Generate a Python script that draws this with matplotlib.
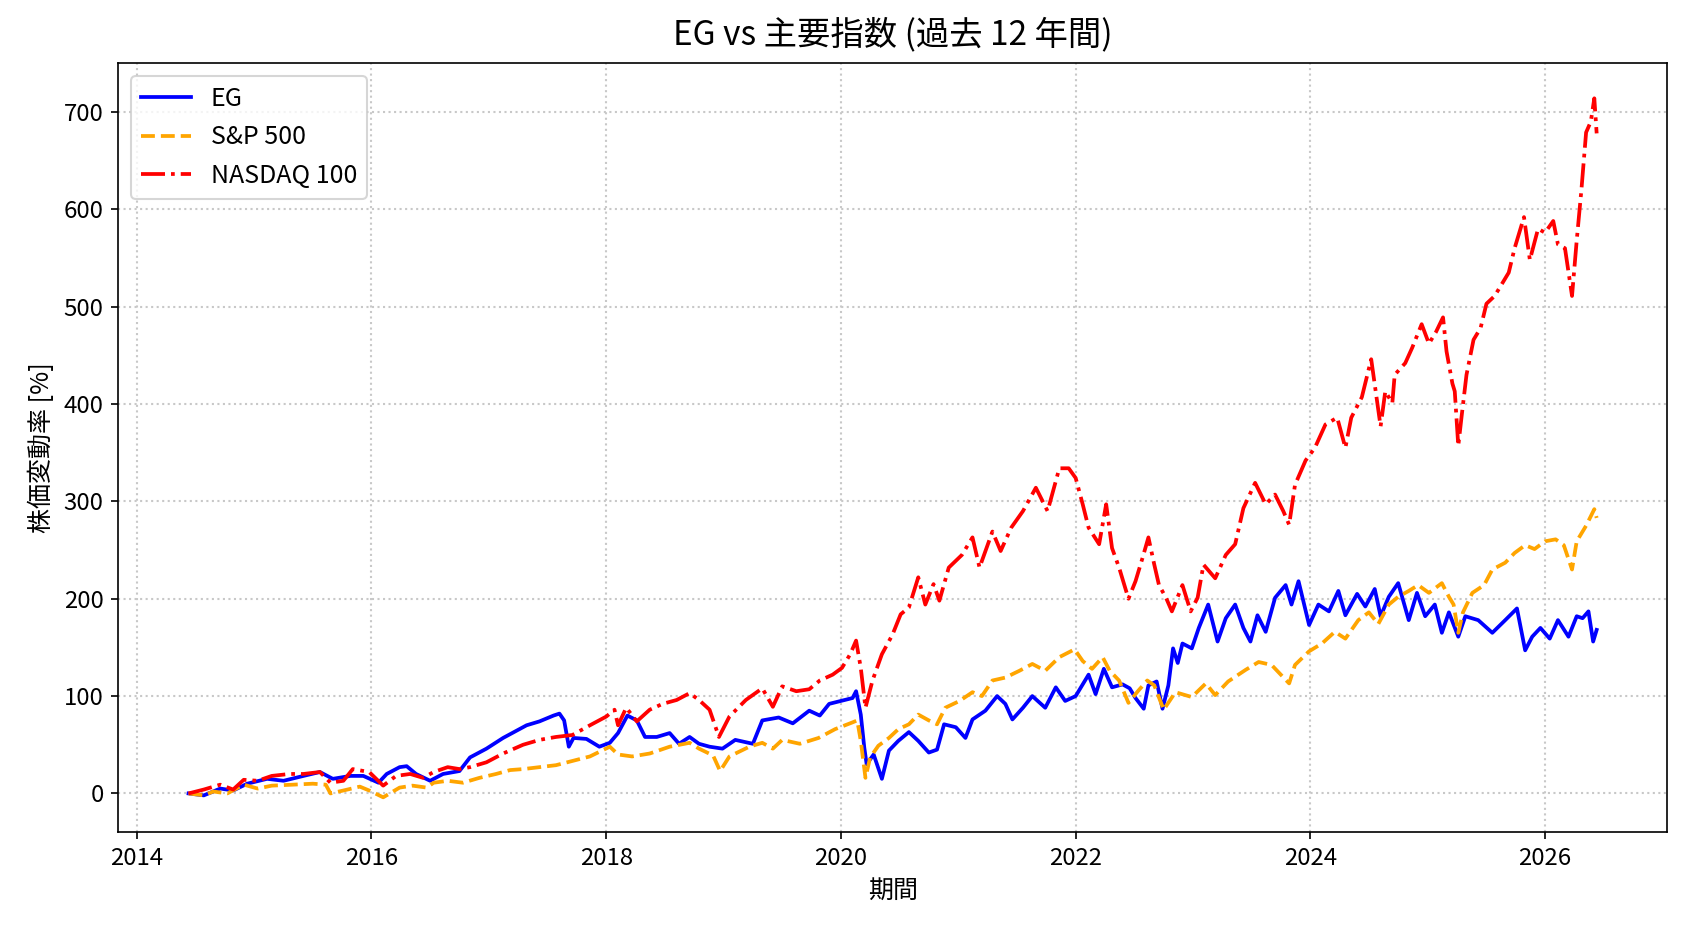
import pandas as pd
import matplotlib
matplotlib.use('Agg')
import matplotlib.pyplot as plt
import matplotlib.dates as mdates

plt.rcParams['font.family'] = ['Noto Sans CJK JP', 'DejaVu Sans']

# 値は図から読み取った (日付は小数年)
eg_t = [2014.44, 2014.57, 2014.71, 2014.82, 2014.94, 2015.11, 2015.25, 2015.42, 2015.56, 2015.67,
        2015.82, 2015.93, 2016.06, 2016.13, 2016.24, 2016.30, 2016.38, 2016.50, 2016.61, 2016.75,
        2016.84, 2016.98, 2017.12, 2017.32, 2017.43, 2017.55, 2017.60, 2017.64, 2017.68, 2017.72,
        2017.83, 2017.94, 2018.03, 2018.10, 2018.18, 2018.26, 2018.33, 2018.43, 2018.54, 2018.62,
        2018.71, 2018.79, 2018.88, 2018.99, 2019.10, 2019.25, 2019.33, 2019.47, 2019.59, 2019.73,
        2019.82, 2019.90, 2020.00, 2020.10, 2020.13, 2020.17, 2020.20, 2020.22, 2020.28, 2020.35,
        2020.41, 2020.49, 2020.58, 2020.66, 2020.75, 2020.82, 2020.88, 2020.98, 2021.06, 2021.12,
        2021.23, 2021.33, 2021.40, 2021.46, 2021.55, 2021.63, 2021.74, 2021.83, 2021.91, 2022.00,
        2022.06, 2022.11, 2022.17, 2022.24, 2022.31, 2022.40, 2022.46, 2022.51, 2022.58, 2022.62,
        2022.69, 2022.74, 2022.79, 2022.83, 2022.87, 2022.91, 2022.99, 2023.05, 2023.13, 2023.21,
        2023.28, 2023.36, 2023.43, 2023.49, 2023.55, 2023.62, 2023.70, 2023.79, 2023.84, 2023.90,
        2023.99, 2024.07, 2024.16, 2024.24, 2024.30, 2024.40, 2024.47, 2024.55, 2024.60, 2024.67,
        2024.75, 2024.84, 2024.91, 2024.98, 2025.06, 2025.12, 2025.18, 2025.26, 2025.32, 2025.43,
        2025.55, 2025.66, 2025.76, 2025.83, 2025.89, 2025.96, 2026.04, 2026.11, 2026.20, 2026.27,
        2026.32, 2026.37, 2026.41, 2026.44]
eg_v = [0, -2, 5, 3, 10, 15, 13, 18, 22, 15,
        18, 18, 11, 20, 27, 28, 20, 13, 20, 23,
        37, 46, 57, 70, 74, 80, 82, 75, 48, 57,
        56, 48, 52, 62, 80, 75, 58, 58, 62, 51,
        58, 51, 48, 46, 55, 51, 75, 78, 72, 85,
        80, 92, 95, 98, 105, 81, 47, 30, 40, 15,
        44, 54, 63, 54, 42, 45, 71, 68, 57, 76,
        85, 100, 92, 76, 88, 100, 88, 109, 95, 100,
        112, 122, 102, 128, 109, 112, 108, 98, 87, 111,
        115, 87, 111, 149, 134, 154, 149, 170, 194, 156,
        180, 194, 170, 156, 183, 166, 201, 214, 194, 218,
        173, 194, 187, 208, 183, 205, 192, 210, 182, 202,
        216, 178, 206, 182, 194, 165, 186, 161, 182, 178,
        165, 178, 190, 147, 161, 170, 159, 178, 161, 182,
        180, 187, 156, 168]

sp_t = [2014.44, 2014.57, 2014.65, 2014.77, 2014.91, 2015.03, 2015.15, 2015.33, 2015.50, 2015.61,
        2015.65, 2015.76, 2015.90, 2015.98, 2016.10, 2016.24, 2016.35, 2016.47, 2016.53, 2016.65,
        2016.78, 2016.92, 2017.06, 2017.18, 2017.29, 2017.57, 2017.86, 2018.03, 2018.10, 2018.22,
        2018.37, 2018.54, 2018.71, 2018.79, 2018.91, 2018.97, 2019.05, 2019.22, 2019.33, 2019.42,
        2019.50, 2019.65, 2019.81, 2019.95, 2020.10, 2020.14, 2020.17, 2020.21, 2020.25, 2020.32,
        2020.41, 2020.49, 2020.58, 2020.66, 2020.75, 2020.82, 2020.89, 2021.01, 2021.12, 2021.20,
        2021.29, 2021.40, 2021.52, 2021.63, 2021.74, 2021.86, 2021.99, 2022.06, 2022.14, 2022.23,
        2022.29, 2022.37, 2022.45, 2022.53, 2022.61, 2022.67, 2022.75, 2022.85, 2022.99, 2023.11,
        2023.19, 2023.30, 2023.45, 2023.56, 2023.67, 2023.82, 2023.87, 2023.99, 2024.10, 2024.21,
        2024.30, 2024.41, 2024.50, 2024.58, 2024.67, 2024.75, 2024.84, 2024.92, 2025.01, 2025.12,
        2025.18, 2025.22, 2025.26, 2025.30, 2025.38, 2025.48, 2025.55, 2025.66, 2025.74, 2025.83,
        2025.91, 2026.00, 2026.09, 2026.16, 2026.23, 2026.27, 2026.35, 2026.42, 2026.44]
sp_v = [0, -2, 2, 0, 9, 5, 8, 9, 10, 9,
        0, 3, 7, 3, -4, 6, 8, 6, 11, 13,
        11, 16, 20, 24, 25, 29, 38, 48, 40, 38,
        41, 48, 52, 46, 39, 23, 38, 48, 52, 46,
        55, 51, 57, 66, 73, 75, 54, 16, 37, 49,
        57, 66, 71, 81, 75, 71, 88, 95, 104, 100,
        116, 119, 126, 133, 126, 140, 148, 136, 128, 140,
        126, 116, 93, 105, 116, 111, 86, 104, 99, 113,
        101, 115, 127, 135, 132, 113, 132, 146, 154, 166,
        159, 178, 186, 174, 194, 202, 208, 214, 206, 216,
        202, 194, 165, 186, 206, 214, 230, 237, 247, 255,
        251, 259, 261, 255, 230, 259, 275, 292, 283]

nq_t = [2014.44, 2014.57, 2014.71, 2014.82, 2014.91, 2015.03, 2015.15, 2015.30, 2015.42, 2015.56,
        2015.65, 2015.76, 2015.84, 2015.98, 2016.10, 2016.21, 2016.33, 2016.44, 2016.53, 2016.65,
        2016.75, 2016.84, 2016.98, 2017.12, 2017.29, 2017.43, 2017.57, 2017.71, 2017.86, 2018.00,
        2018.07, 2018.10, 2018.17, 2018.26, 2018.37, 2018.48, 2018.60, 2018.71, 2018.79, 2018.88,
        2018.96, 2019.05, 2019.19, 2019.33, 2019.42, 2019.50, 2019.62, 2019.73, 2019.82, 2019.93,
        2020.01, 2020.08, 2020.13, 2020.17, 2020.21, 2020.27, 2020.35, 2020.44, 2020.51, 2020.58,
        2020.66, 2020.72, 2020.79, 2020.84, 2020.92, 2021.03, 2021.12, 2021.18, 2021.29, 2021.36,
        2021.45, 2021.55, 2021.66, 2021.76, 2021.86, 2021.94, 2022.00, 2022.06, 2022.11, 2022.20,
        2022.26, 2022.31, 2022.37, 2022.45, 2022.51, 2022.57, 2022.62, 2022.67, 2022.71, 2022.77,
        2022.82, 2022.91, 2022.98, 2023.04, 2023.09, 2023.19, 2023.28, 2023.36, 2023.43, 2023.53,
        2023.62, 2023.70, 2023.77, 2023.82, 2023.87, 2023.96, 2024.04, 2024.13, 2024.23, 2024.30,
        2024.35, 2024.44, 2024.52, 2024.60, 2024.64, 2024.70, 2024.72, 2024.81, 2024.87, 2024.95,
        2025.01, 2025.07, 2025.13, 2025.16, 2025.21, 2025.23, 2025.26, 2025.29, 2025.33, 2025.39,
        2025.45, 2025.50, 2025.57, 2025.63, 2025.69, 2025.74, 2025.82, 2025.87, 2025.94, 2026.00,
        2026.07, 2026.11, 2026.17, 2026.23, 2026.27, 2026.31, 2026.35, 2026.39, 2026.42, 2026.44]
nq_v = [0, 4, 9, 4, 14, 13, 18, 20, 20, 22,
        11, 13, 25, 22, 8, 18, 20, 16, 22, 27,
        25, 27, 32, 41, 50, 55, 58, 60, 70, 79,
        86, 70, 88, 74, 86, 92, 96, 103, 96, 86,
        58, 79, 96, 108, 89, 110, 105, 107, 116, 122,
        129, 143, 157, 129, 88, 116, 143, 163, 184, 191,
        222, 194, 215, 198, 232, 245, 263, 232, 269, 249,
        273, 290, 314, 290, 334, 334, 324, 297, 273, 256,
        297, 252, 232, 200, 218, 242, 263, 235, 214, 201,
        187, 214, 187, 201, 235, 221, 245, 256, 293, 319,
        297, 307, 290, 276, 317, 342, 355, 379, 386, 355,
        386, 407, 446, 377, 413, 401, 430, 442, 458, 482,
        462, 474, 489, 454, 421, 413, 357, 389, 430, 466,
        478, 503, 511, 523, 535, 560, 592, 548, 580, 576,
        588, 564, 560, 511, 568, 620, 679, 690, 714, 678]


def to_dates(years):
    # 小数年 -> 日付
    return [pd.Timestamp(int(y), 1, 1) + pd.Timedelta(days=(y - int(y)) * 365.25) for y in years]


fig, ax = plt.subplots(figsize=(16.88 / 1.5, 9.32 / 1.5), dpi=150)
fig.subplots_adjust(left=0.070, right=0.9876, top=0.932, bottom=0.107)

ax.plot(to_dates(eg_t), eg_v, color='blue', linestyle='-', linewidth=1.8, label='EG')
ax.plot(to_dates(sp_t), sp_v, color='orange', linestyle='--', linewidth=1.8, label='S&P 500')
ax.plot(to_dates(nq_t), nq_v, color='red', linestyle='-.', linewidth=1.8, label='NASDAQ 100')

ax.xaxis.set_major_locator(mdates.YearLocator(2))
ax.xaxis.set_major_formatter(mdates.DateFormatter('%Y'))

ax.set_title('EG vs 主要指数 (過去 12 年間)', fontsize=16, pad=9)
ax.set_xlabel('期間', fontsize=12)
ax.set_ylabel('株価変動率 [%]', fontsize=12)
ax.tick_params(labelsize=11.5)
ax.grid(True, linestyle=':', color='#c8c8c8', linewidth=1.0)
ax.legend(loc='upper left', fontsize=12)

plt.savefig('out.png', dpi=150)
